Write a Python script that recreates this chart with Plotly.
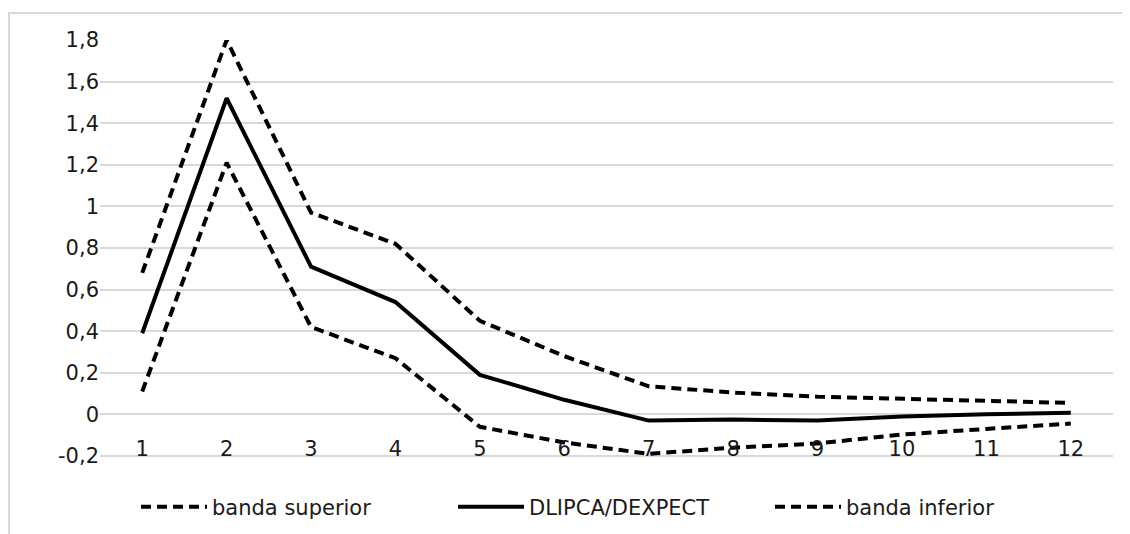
import plotly.graph_objects as go

categories = [1, 2, 3, 4, 5, 6, 7, 8, 9, 10, 11, 12]
banda_superior = [0.68, 1.80, 0.97, 0.82, 0.45, 0.28, 0.135, 0.105, 0.085, 0.075, 0.065, 0.055]
dlipca_dexpect = [0.39, 1.52, 0.71, 0.54, 0.19, 0.07, -0.03, -0.025, -0.03, -0.01, 0.0, 0.008]
banda_inferior = [0.11, 1.21, 0.42, 0.27, -0.06, -0.135, -0.19, -0.16, -0.14, -0.097, -0.07, -0.044]

y_tickvals = [-0.2, 0, 0.2, 0.4, 0.6, 0.8, 1.0, 1.2, 1.4, 1.6, 1.8]
y_ticktext = ["-0,2", "0", "0,2", "0,4", "0,6", "0,8", "1", "1,2", "1,4", "1,6", "1,8"]
y_range = [-0.205, 1.8]

FONT = "DejaVu Sans"
TXT = "#1a1a1a"
W, H = 1122, 526
ML, MR, MT, MB = 92, 17, 32, 77
plot_h = H - MT - MB
plot_w = W - ML - MR

fig = go.Figure()
for name, vals, dash in [("banda superior", banda_superior, "10px,6px"),
                         ("DLIPCA/DEXPECT", dlipca_dexpect, "solid"),
                         ("banda inferior", banda_inferior, "10px,6px")]:
    fig.add_trace(go.Scatter(x=categories, y=vals, mode="lines", name=name,
                             xaxis="x2", yaxis="y",
                             line=dict(color="black", width=4, dash=dash)))

# x labels sit just below the zero line (category axis crosses at 0)
zero_pos = (0 - y_range[0]) / (y_range[1] - y_range[0])

fig.update_layout(
    width=W, height=H,
    margin=dict(l=ML, r=MR, t=MT, b=MB, autoexpand=False),
    paper_bgcolor="white", plot_bgcolor="white",
    font=dict(family=FONT, size=21, color=TXT),
    showlegend=True,
    legend=dict(orientation="h", x=(136 - 100) / plot_w, xanchor="left",
                y=(449 - 499) / plot_h, yanchor="middle",
                font=dict(family=FONT, size=21, color=TXT),
                itemwidth=66, entrywidth=236, entrywidthmode="pixels"),
    xaxis=dict(range=[0.5, 12.5], showticklabels=False, automargin=False,
               showgrid=False, zeroline=False, showline=False, ticks=""),
    xaxis2=dict(range=[0.5, 12.5], overlaying="x", anchor="free", position=zero_pos,
                side="bottom", tickmode="array", tickvals=categories,
                ticktext=[str(c) for c in categories], automargin=False,
                showgrid=False, zeroline=False, showline=False,
                ticks="", ticklabelstandoff=20,
                tickfont=dict(family=FONT, size=21, color=TXT)),
    yaxis=dict(range=y_range, tickmode="array", tickvals=y_tickvals, ticktext=y_ticktext,
               showgrid=True, gridcolor="#d9d9d9", gridwidth=1.5, automargin=False,
               zeroline=False, showline=False, ticks="",
               tickfont=dict(family=FONT, size=21, color=TXT)),
    shapes=[
        dict(type="line", xref="paper", yref="paper", x0=(0 - ML) / plot_w, x1=1.2,
             y0=(H - MB - 5) / plot_h, y1=(H - MB - 5) / plot_h,
             line=dict(color="#d9d9d9", width=2)),
        dict(type="line", xref="paper", yref="paper", x0=(1 - ML) / plot_w, x1=(1 - ML) / plot_w,
             y0=(H - MB - 5) / plot_h, y1=-0.4, line=dict(color="#d9d9d9", width=2)),
    ],
)

fig.write_html("out.html")
